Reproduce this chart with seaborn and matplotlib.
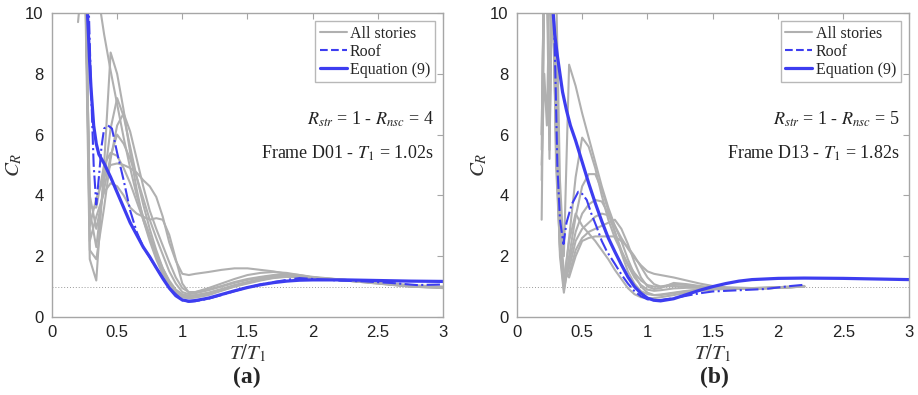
import matplotlib
matplotlib.use("Agg")
import matplotlib.pyplot as plt
import seaborn as sns
import pandas as pd
from matplotlib.lines import Line2D

# ---- panel (a): Frame D01, R_str = 1, R_nsc = 4 ----
xa = [0.2, 0.25, 0.29, 0.34, 0.4, 0.45, 0.5, 0.55, 0.6, 0.65, 0.7, 0.75, 0.8, 0.85, 0.9, 0.95,
      1.0, 1.05, 1.1, 1.2, 1.3, 1.4, 1.5, 1.6, 1.7, 1.8, 1.9, 2.0, 2.25, 2.5, 2.75, 3.0]
a_story1 = [12, 14, 3.0, 3.9, 4.6, 5.0, 5.05, 5.0, 4.9, 4.75, 4.5, 4.3, 3.95, 3.3, 2.45, 1.85,
            1.42, 1.38, 1.42, 1.48, 1.55, 1.6, 1.6, 1.55, 1.5, 1.42, 1.35, 1.28, 1.2, 1.15, 1.05, 1.0]
a_story2 = [11, 13, 2.5, 3.3, 4.1, 4.4, 4.3, 4.0, 3.6, 3.4, 3.3, 3.2, 3.25, 3.2, 2.7, 1.9,
            1.1, 0.8, 0.82, 0.95, 1.1, 1.25, 1.38, 1.45, 1.48, 1.45, 1.38, 1.3, 1.2, 1.12, 1.0, 0.97]
a_story3 = [9.7, 12, 1.9, 1.2, 5.0, 8.7, 8.0, 6.8, 5.4, 4.2, 3.2, 2.5, 1.9, 1.4, 1.0, 0.78,
            0.66, 0.62, 0.64, 0.72, 0.86, 1.0, 1.12, 1.22, 1.3, 1.33, 1.3, 1.27, 1.2, 1.1, 1.0, 0.95]
a_story4 = [14, 13, 12, 11, 9.3, 8.1, 7.0, 5.9, 4.9, 4.0, 3.3, 2.7, 2.1, 1.6, 1.2, 0.9,
            0.75, 0.7, 0.72, 0.8, 0.92, 1.05, 1.15, 1.25, 1.32, 1.38, 1.35, 1.3, 1.22, 1.12, 1.02, 0.98]
a_story5 = [13, 12, 3.5, 2.3, 4.5, 6.2, 7.2, 6.6, 5.6, 4.6, 3.7, 2.9, 2.2, 1.6, 1.15, 0.85,
            0.7, 0.68, 0.7, 0.78, 0.9, 1.03, 1.14, 1.24, 1.32, 1.36, 1.33, 1.28, 1.2, 1.12, 1.02, 0.98]
a_story6 = [11, 12, 4.0, 2.9, 4.2, 5.3, 6.0, 5.7, 5.2, 4.6, 3.9, 3.2, 2.6, 2.05, 1.5, 1.1,
            0.82, 0.75, 0.78, 0.88, 1.0, 1.12, 1.22, 1.3, 1.36, 1.4, 1.36, 1.3, 1.22, 1.12, 1.02, 0.98]
a_story7 = [12, 13, 3.6, 3.6, 5.0, 5.4, 5.3, 4.9, 4.4, 3.8, 3.2, 2.6, 2.0, 1.5, 1.1, 0.82,
            0.66, 0.62, 0.65, 0.74, 0.88, 1.0, 1.1, 1.2, 1.28, 1.32, 1.3, 1.27, 1.2, 1.1, 1.0, 0.96]
a_story8 = [12, 14, 2.2, 1.9, 3.6, 5.2, 6.3, 6.7, 6.1, 5.2, 4.3, 3.5, 2.9, 2.35, 1.8, 1.3,
            0.95, 0.82, 0.82, 0.9, 1.02, 1.15, 1.25, 1.32, 1.38, 1.42, 1.38, 1.32, 1.22, 1.12, 1.02, 0.97]

a_roof_x = [0.25, 0.28, 0.3, 0.32, 0.34, 0.36, 0.38, 0.4, 0.43, 0.46, 0.5, 0.55, 0.6, 0.65, 0.7,
            0.8, 0.9, 1.0, 1.05, 1.1, 1.2, 1.3, 1.4, 1.5, 1.6, 1.7, 1.8, 1.9, 2.0, 2.2, 2.4, 2.6, 2.8, 3.0]
a_roof_y = [14, 10.5, 7.5, 5.0, 3.7, 4.6, 5.6, 6.2, 6.3, 6.2, 5.4, 4.5, 3.5, 2.8, 2.3,
            1.62, 0.95, 0.55, 0.5, 0.52, 0.6, 0.72, 0.85, 0.97, 1.07, 1.15, 1.22, 1.28, 1.25, 1.2, 1.17, 1.12, 1.05, 1.07]

a_eq_x = [0.27, 0.28, 0.29, 0.3, 0.32, 0.34, 0.36, 0.38, 0.4, 0.45, 0.5, 0.55, 0.6, 0.65, 0.7, 0.75,
          0.8, 0.85, 0.9, 0.95, 1.0, 1.05, 1.1, 1.2, 1.3, 1.4, 1.5, 1.6, 1.7, 1.8, 1.9, 2.0, 2.25, 2.5, 2.75, 3.0]
a_eq_y = [10.2, 9.3, 8.3, 7.5, 6.3, 5.7, 5.35, 5.2, 5.05, 4.6, 4.1, 3.6, 3.1, 2.7, 2.3, 1.98,
          1.62, 1.27, 0.95, 0.7, 0.56, 0.52, 0.54, 0.62, 0.74, 0.86, 0.97, 1.06, 1.13, 1.18, 1.21, 1.22, 1.22, 1.2, 1.18, 1.17]

# ---- panel (b): Frame D13, R_str = 1, R_nsc = 5 ----
xb = [0.19, 0.21, 0.23, 0.25, 0.27, 0.3, 0.33, 0.36, 0.4, 0.45, 0.5, 0.55, 0.6, 0.65, 0.7, 0.75,
      0.8, 0.85, 0.9, 0.95, 1.0, 1.05, 1.1, 1.2, 1.3, 1.4, 1.5, 1.6, 1.8, 2.0, 2.2]
b_story1 = [12, 13, 12, 13, 12, 11, 4.5, 2.0, 8.3, 7.6, 6.7, 5.9, 5.1, 4.3, 3.6, 3.0,
            2.6, 2.25, 1.95, 1.7, 1.5, 1.42, 1.38, 1.3, 1.2, 1.1, 1.02, 0.98, 0.95, 0.98, 1.02]
b_story2 = [5.0, 8.0, 6.3, 11, 12, 7, 2.8, 1.0, 2.6, 4.6, 5.9, 5.6, 4.9, 4.0, 3.2, 2.6,
            2.15, 1.75, 1.45, 1.2, 1.05, 1.0, 1.0, 1.08, 1.05, 1.0, 0.97, 0.95, 0.95, 0.98, 1.02]
b_story3 = [3.2, 11, 12, 6.0, 11, 6, 2.0, 0.8, 2.0, 3.3, 4.3, 4.7, 4.7, 4.2, 3.5, 2.8,
            2.2, 1.7, 1.3, 1.05, 0.9, 0.86, 0.88, 0.94, 0.96, 0.96, 0.95, 0.94, 0.93, 0.97, 1.0]
b_story4 = [5.5, 12, 11, 5.2, 12, 5.5, 2.2, 0.9, 1.8, 2.8, 3.4, 3.7, 3.85, 3.8, 3.4, 2.8,
            2.1, 1.5, 1.1, 0.85, 0.75, 0.72, 0.74, 0.8, 0.86, 0.9, 0.92, 0.93, 0.93, 0.96, 1.0]
b_story5 = [6.0, 12, 13, 5.5, 11, 6.5, 2.4, 1.1, 1.6, 2.5, 2.9, 3.1, 3.3, 3.4, 3.35, 3.0,
            2.5, 1.9, 1.4, 1.0, 0.8, 0.72, 0.72, 0.78, 0.85, 0.9, 0.92, 0.93, 0.93, 0.96, 1.0]
b_story6 = [4.5, 11, 12, 6.3, 12, 7.5, 2.6, 1.3, 1.4, 2.2, 2.6, 2.8, 2.9, 3.0, 3.1, 3.2,
            2.9, 2.4, 1.8, 1.3, 1.0, 0.92, 0.95, 1.12, 1.08, 1.02, 0.97, 0.95, 0.94, 0.97, 1.0]
b_story7 = [12, 13, 12, 12, 11, 8, 3.0, 1.5, 1.3, 2.0, 2.5, 2.6, 2.65, 2.65, 2.65, 2.65,
            2.5, 2.3, 2.0, 1.65, 1.3, 1.08, 1.0, 1.02, 1.0, 0.97, 0.95, 0.94, 0.93, 0.96, 1.0]
b_story8 = [6.0, 12, 11, 12, 13, 5, 2.3, 1.2, 2.5, 3.4, 3.0, 2.75, 2.5, 2.2, 1.9, 1.55,
            1.25, 0.95, 0.75, 0.65, 0.62, 0.62, 0.65, 0.72, 0.8, 0.86, 0.9, 0.92, 0.93, 0.96, 1.0]

b_roof_x = [0.28, 0.295, 0.31, 0.33, 0.357, 0.38, 0.42, 0.47, 0.5, 0.535, 0.57, 0.61, 0.65, 0.69,
            0.75, 0.8, 0.85, 0.9, 0.95, 1.0, 1.05, 1.1, 1.2, 1.3, 1.4, 1.5, 1.6, 1.7, 1.8, 1.9, 2.0, 2.1, 2.2]
b_roof_y = [10.5, 8.0, 5.0, 3.2, 2.4, 3.1, 3.7, 4.12, 4.05, 3.85, 3.4, 2.97, 2.5, 2.15,
            1.75, 1.4, 1.1, 0.85, 0.68, 0.58, 0.55, 0.56, 0.62, 0.7, 0.78, 0.84, 0.86, 0.88, 0.9, 0.92, 0.97, 1.02, 1.06]

b_eq_x = [0.275, 0.29, 0.31, 0.33, 0.35, 0.38, 0.41, 0.45, 0.5, 0.55, 0.6, 0.65, 0.7, 0.75, 0.8,
          0.85, 0.9, 0.95, 1.0, 1.05, 1.1, 1.2, 1.3, 1.4, 1.5, 1.6, 1.7, 1.8, 2.0, 2.2, 2.5, 2.75, 3.0]
b_eq_y = [10.2, 9.3, 8.6, 8.0, 7.4, 6.8, 6.3, 5.8, 5.1, 4.4, 3.75, 3.15, 2.6, 2.15, 1.72,
          1.32, 1.0, 0.78, 0.62, 0.55, 0.53, 0.6, 0.74, 0.88, 1.0, 1.1, 1.18, 1.23, 1.27, 1.28, 1.27, 1.25, 1.23]

panels = [
    dict(x=xa, stories=[a_story1, a_story2, a_story3, a_story4, a_story5, a_story6, a_story7, a_story8],
         roof=(a_roof_x, a_roof_y), eq=(a_eq_x, a_eq_y),
         txt1=r"$R_{str}$ = 1 - $R_{nsc}$ = 4", txt2=r"Frame D01 - $T_1$ = 1.02s", tag="(a)"),
    dict(x=xb, stories=[b_story1, b_story2, b_story3, b_story4, b_story5, b_story6, b_story7, b_story8],
         roof=(b_roof_x, b_roof_y), eq=(b_eq_x, b_eq_y),
         txt1=r"$R_{str}$ = 1 - $R_{nsc}$ = 5", txt2=r"Frame D13 - $T_1$ = 1.82s", tag="(b)"),
]

sns.set_style("white")
plt.rcParams["font.family"] = ["Liberation Serif", "DejaVu Serif"]
plt.rcParams["mathtext.fontset"] = "stix"

GRAY = "#b0b0b0"
BLUE = "#3d3df0"
FRAME = "#a6a6a6"

fig = plt.figure(figsize=(9.18, 3.95), dpi=100)
ax_pos = [[0.0566, 0.1975, 0.426, 0.7696], [0.563, 0.1975, 0.427, 0.7696]]
tag_x = [0.269, 0.778]

for i, p in enumerate(panels):
    ax = fig.add_axes(ax_pos[i])
    rows = []
    for k, s in enumerate(p["stories"]):
        for xv, yv in zip(p["x"], s):
            rows.append({"T": xv, "CR": yv, "story": k})
    df = pd.DataFrame(rows)
    sns.lineplot(data=df, x="T", y="CR", units="story", estimator=None, color=GRAY,
                 lw=1.5, sort=False, ax=ax, legend=False)
    ax.axhline(1.0, color="#9a9a9a", lw=0.7, ls=(0, (1, 2)), zorder=1)
    sns.lineplot(x=p["roof"][0], y=p["roof"][1], color=BLUE, lw=1.5, ls="-.", sort=False, ax=ax)
    sns.lineplot(x=p["eq"][0], y=p["eq"][1], color=BLUE, lw=2.3, sort=False, ax=ax)

    ax.set_xlim(0, 3)
    ax.set_ylim(0, 10)
    ax.set_xticks([0, 0.5, 1, 1.5, 2, 2.5, 3])
    ax.set_xticklabels(["0", "0.5", "1", "1.5", "2", "2.5", "3"])
    ax.set_yticks([0, 2, 4, 6, 8, 10])
    ax.tick_params(direction="in", top=True, right=True, length=4, width=0.8, color=FRAME,
                   labelsize=12, labelcolor="#222222", pad=6)
    for lab in ax.get_xticklabels() + ax.get_yticklabels():
        lab.set_family("Liberation Sans")
    for sp in ax.spines.values():
        sp.set_visible(True)
        sp.set_color(FRAME)
        sp.set_linewidth(1.0)

    ax.set_xlabel(r"$T/T_1$", fontsize=15, color="#333333", labelpad=2)
    ax.set_ylabel(r"$C_R$", fontsize=15, color="#333333")
    ax.yaxis.set_label_coords(-0.07, 0.5)

    ax.text(0.977, 0.65, p["txt1"], transform=ax.transAxes, ha="right", va="center",
            fontsize=13, color="#222222")
    ax.text(0.977, 0.54, p["txt2"], transform=ax.transAxes, ha="right", va="center",
            fontsize=13, color="#222222")

    handles = [Line2D([], [], color=GRAY, lw=1.5),
               Line2D([], [], color=BLUE, lw=1.5, ls="--"),
               Line2D([], [], color=BLUE, lw=2.3)]
    leg = ax.legend(handles, ["All stories", "Roof", "Equation (9)"], loc="upper right",
                    fontsize=11.5, frameon=True, fancybox=False, borderaxespad=0.5,
                    handlelength=1.7, handletextpad=0.2, labelspacing=0.12,
                    borderpad=0.3)
    leg.get_frame().set_edgecolor(FRAME)
    leg.get_frame().set_linewidth(1.0)

    fig.text(tag_x[i], 0.045, p["tag"], ha="center", va="center", fontsize=17, fontweight="bold")

fig.savefig("out.png", dpi=100)
